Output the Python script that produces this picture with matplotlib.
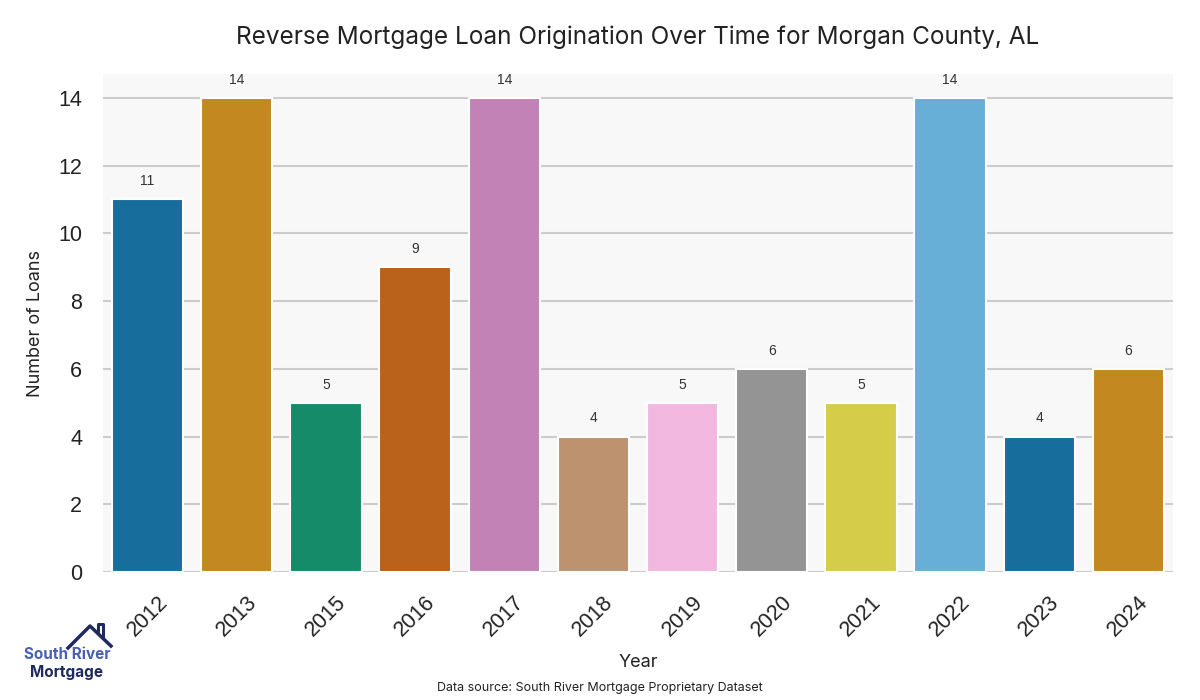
import matplotlib
matplotlib.use("Agg")
import matplotlib.pyplot as plt
import seaborn as sns
import numpy as np

years = ["2012", "2013", "2015", "2016", "2017", "2018", "2019", "2020", "2021", "2022", "2023", "2024"]
loans = [11, 14, 5, 9, 14, 4, 5, 6, 5, 14, 4, 6]

base = sns.color_palette("colorblind", 10)
colors = [sns.desaturate(base[i % 10], 0.75) for i in range(len(years))]

fig = plt.figure(figsize=(12, 7), dpi=100)
ax = fig.add_axes([0.0858, 0.1829, 0.8917, 0.7111])
ax.set_facecolor("#f8f8f8")
x = np.arange(len(years))
ax.set_axisbelow(True)
ax.yaxis.grid(True, color="#cccccc", linewidth=1.5)
ax.xaxis.grid(False)
bars = ax.bar(x, loans, width=0.8, color=colors, edgecolor="white", linewidth=1.5, zorder=3)
for xi, v in zip(x, loans):
    ax.annotate(str(v), (xi, v), xytext=(0, 8), textcoords="offset points",
                ha="center", va="bottom", fontsize=10, color="#333333", family="Liberation Sans")
ax.set_xlim(-0.5, len(years) - 0.5)
ax.set_ylim(0, 14.7)
ax.set_yticks(range(0, 15, 2))
ax.set_xticks(x)
ax.set_xticklabels(years, rotation=45, fontsize=15.5, family="Liberation Sans", color="#222222")
for lab in ax.get_yticklabels():
    lab.set_fontsize(15.5)
    lab.set_family("Liberation Sans")
    lab.set_color("#222222")
ax.tick_params(axis="y", length=0, pad=15)
ax.tick_params(axis="x", length=0, pad=14)
for s in ax.spines.values():
    s.set_visible(False)
ax.set_ylabel("Number of Loans", fontsize=13, family="Inter", color="#222222", labelpad=10)
ax.set_xlabel("Year", fontsize=13, family="Inter", color="#222222", labelpad=10)
ax.set_title("Reverse Mortgage Loan Origination Over Time for Morgan County, AL",
             fontsize=17.5, family="Inter", color="#222222", pad=22)
fig.text(0.5, 0.017, "Data source: South River Mortgage Proprietary Dataset",
         ha="center", va="center", fontsize=9, family="Inter", color="#222222")

# logo
fig.text(0.0558, 0.065, "South River", ha="center", va="center", fontsize=11,
         family="Inter", fontweight="bold", color="#4a5fb0")
fig.text(0.0558, 0.04, "Mortgage", ha="center", va="center", fontsize=11,
         family="Inter", fontweight="bold", color="#1f2a5e")
hx = [68 / 1200, 90 / 1200, 111 / 1200]
hy = [1 - 648 / 700, 1 - 626 / 700, 1 - 646 / 700]
fig.add_artist(plt.Line2D(hx, hy, color="#1f2a5e", linewidth=2.5))
fig.add_artist(plt.Line2D([98 / 1200, 98 / 1200, 103 / 1200, 103 / 1200],
                          [1 - 633 / 700, 1 - 624 / 700, 1 - 624 / 700, 1 - 638 / 700],
                          color="#1f2a5e", linewidth=2.2))

fig.savefig("out.png", dpi=100)
